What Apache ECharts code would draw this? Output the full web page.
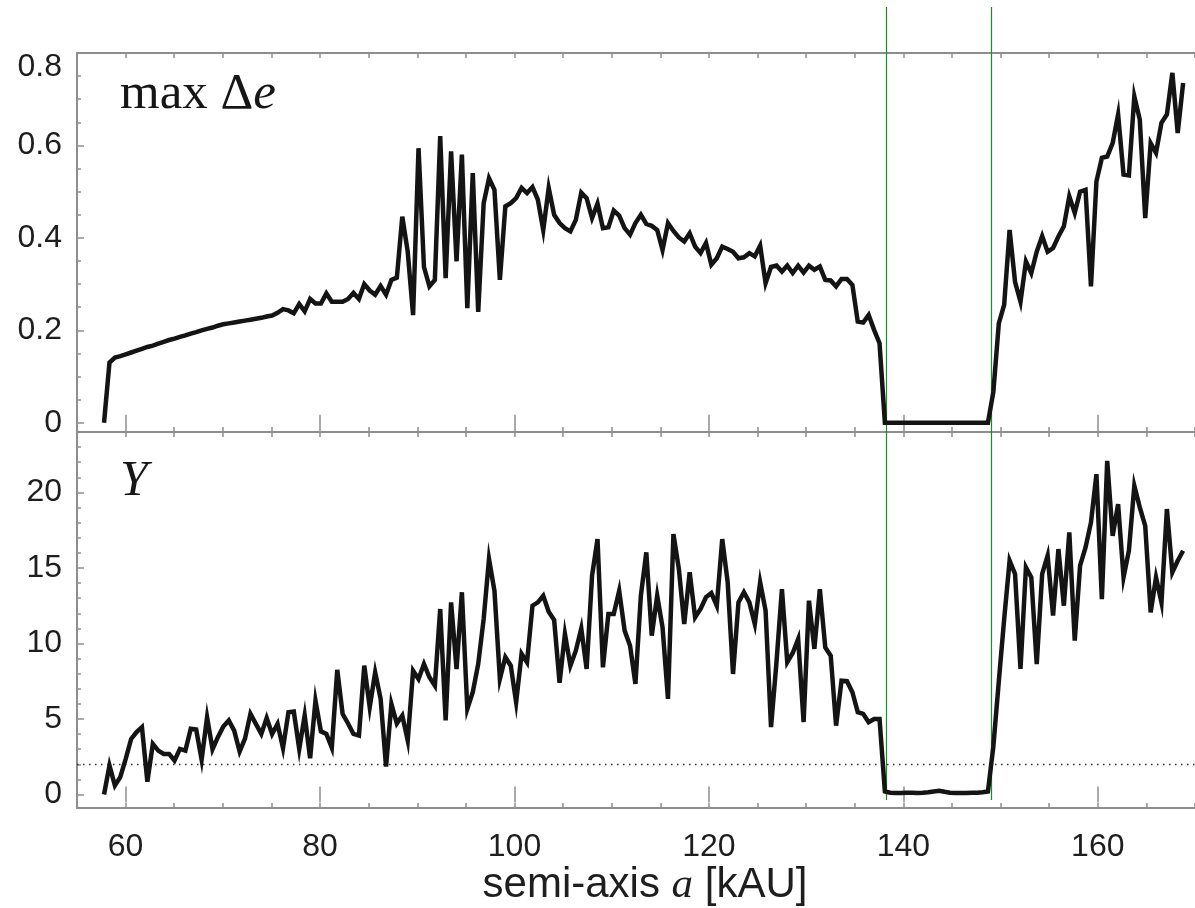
<!DOCTYPE html>
<html><head><meta charset="utf-8">
<script src="https://cdn.jsdelivr.net/npm/echarts@6/dist/echarts.min.js"></script>
<style>html,body{margin:0;padding:0;background:#fff}#c{width:1195px;height:908px}</style>
</head><body><div id="c"></div>
<script>
// semi-axis a [kAU] sample positions
const semiAxis = [
57.78,58.34,58.90,59.45,60.01,60.57,61.13,61.68,62.24,62.80,
63.36,63.92,64.47,65.03,65.59,66.15,66.70,67.26,67.82,68.38,
68.94,69.49,70.05,70.61,71.17,71.73,72.28,72.84,73.40,73.96,
74.51,75.07,75.63,76.19,76.75,77.30,77.86,78.42,78.98,79.53,
80.09,80.65,81.21,81.77,82.32,82.88,83.44,84.00,84.55,85.11,
85.67,86.23,86.79,87.34,87.90,88.46,89.02,89.57,90.13,90.69,
91.25,91.81,92.36,92.92,93.48,94.04,94.59,95.15,95.71,96.27,
96.83,97.38,97.94,98.50,99.06,99.62,100.17,100.73,101.29,101.85,
102.40,102.96,103.52,104.08,104.64,105.19,105.75,106.31,106.87,107.42,
107.98,108.54,109.10,109.66,110.21,110.77,111.33,111.89,112.44,113.00,
113.56,114.12,114.68,115.23,115.79,116.35,116.91,117.46,118.02,118.58,
119.14,119.70,120.25,120.81,121.37,121.93,122.48,123.04,123.60,124.16,
124.72,125.27,125.83,126.39,126.95,127.51,128.06,128.62,129.18,129.74,
130.29,130.85,131.41,131.97,132.53,133.08,133.64,134.20,134.76,135.31,
135.87,136.43,136.99,137.55,138.10,138.66,139.22,139.78,140.33,140.89,
141.45,142.01,142.57,143.12,143.68,144.24,144.80,145.35,145.91,146.47,
147.03,147.59,148.14,148.70,149.26,149.82,150.37,150.93,151.49,152.05,
152.61,153.16,153.72,154.28,154.84,155.40,155.95,156.51,157.07,157.63,
158.18,158.74,159.30,159.86,160.42,160.97,161.53,162.09,162.65,163.20,
163.76,164.32,164.88,165.44,165.99,166.55,167.11,167.67,168.22,168.78
];
// top panel: max Δe
const maxDeltaE = [
0,0.13,0.141,0.144,0.148,0.152,0.156,0.160,0.164,0.167,
0.171,0.175,0.179,0.182,0.186,0.189,0.193,0.196,0.200,0.203,
0.206,0.210,0.213,0.215,0.217,0.219,0.221,0.223,0.225,0.227,
0.230,0.232,0.238,0.246,0.243,0.237,0.257,0.241,0.268,0.258,
0.258,0.280,0.262,0.262,0.262,0.268,0.281,0.268,0.300,0.286,
0.277,0.296,0.277,0.309,0.314,0.446,0.370,0.233,0.594,0.337,
0.295,0.309,0.620,0.313,0.587,0.349,0.580,0.248,0.540,0.240,
0.475,0.529,0.504,0.309,0.468,0.475,0.486,0.508,0.497,0.510,
0.483,0.417,0.508,0.450,0.432,0.421,0.414,0.439,0.498,0.486,
0.443,0.474,0.421,0.423,0.459,0.448,0.421,0.407,0.432,0.450,
0.430,0.426,0.417,0.374,0.432,0.415,0.401,0.392,0.410,0.381,
0.367,0.389,0.342,0.356,0.381,0.376,0.370,0.356,0.358,0.367,
0.360,0.383,0.302,0.337,0.340,0.327,0.340,0.324,0.340,0.325,
0.340,0.331,0.338,0.309,0.308,0.295,0.311,0.311,0.298,0.219,
0.217,0.233,0.201,0.172,0,0,0,0,0,0,
0,0,0,0,0,0,0,0,0,0,
0,0,0,0,0.067,0.215,0.255,0.417,0.305,0.262,
0.349,0.324,0.370,0.404,0.370,0.378,0.403,0.425,0.490,0.454,
0.500,0.504,0.295,0.522,0.573,0.576,0.605,0.667,0.537,0.535,
0.706,0.656,0.443,0.605,0.584,0.649,0.667,0.757,0.627,0.735
];
// bottom panel: Y
const yParam = [
0,1.92,0.6,1.15,2.36,3.68,4.13,4.46,0.85,3.35,
2.91,2.69,2.69,2.25,3.02,2.91,4.35,4.3,2.3,5.12,
3.0,3.8,4.5,4.9,4.23,2.85,3.7,5.34,4.68,4.01,
5.06,4.0,4.68,3.07,5.45,5.49,3.02,5.23,2.4,6.22,
4.18,4.01,3.1,8.25,5.34,4.7,4.01,3.9,8.53,5.78,
8.09,6.33,1.85,6.0,4.7,5.23,3.57,8.2,7.65,8.64,
7.76,7.21,12.28,4.9,12.72,8.31,13.39,5.67,6.77,8.64,
11.62,15.59,13.49,7.65,9.09,8.53,6.11,9.31,8.75,12.5,
12.72,13.16,12.1,11.55,7.4,10.63,8.53,9.52,11.0,8.31,
14.48,16.91,8.42,11.95,11.95,13.49,10.85,9.85,7.32,13.16,
16.03,10.52,13.16,11.07,6.33,17.24,14.93,11.29,14.71,11.73,
12.28,13.06,13.34,12.5,16.91,14.05,7.98,12.72,13.39,12.72,
11.29,14.05,12.17,4.46,8.76,13.6,8.76,9.37,10.3,4.79,
12.83,9.64,13.6,9.74,9.19,4.56,7.54,7.5,6.77,5.45,
5.34,4.79,5.0,5.0,0.2,0.12,0.1,0.1,0.12,0.12,
0.1,0.12,0.15,0.2,0.25,0.18,0.12,0.1,0.1,0.1,
0.12,0.12,0.15,0.2,3.2,7.5,11.6,15.48,14.6,8.31,
15.04,14.38,8.64,14.6,15.81,11.84,16.25,12.5,17.35,10.19,
15.15,16.36,18.01,21.21,12.94,22.09,17.13,19.23,14.38,16.14,
20.44,19.01,17.79,12.06,14.38,12.72,18.9,14.71,15.48,16.14
];
const gapBounds = [138.2, 149.0];
const yThreshold = 2;
const xRange = [55, 170];
const xMajorTicks = [60, 80, 100, 120, 140, 160];
const topRange = [-0.02, 0.8];
const topLabels = [0, 0.2, 0.4, 0.6, 0.8];
const topMinorTicks = [0,0.05,0.1,0.15,0.2,0.25,0.3,0.35,0.4,0.45,0.5,0.55,0.6,0.65,0.7,0.75,0.8];
const botRange = [-0.9, 24];
const botLabels = [0, 5, 10, 15, 20];
const botMinorTicks = [0,1,2,3,4,5,6,7,8,9,10,11,12,13,14,15,16,17,18,19,20,21,22,23,24];

const AX = '#8e8e8e';
const TXT = '#1e1e1e';
const FS = 32;
const grids = [
  {left: 77, right: 0, top: 53, height: 379},
  {left: 77, right: 0, top: 432, height: 377},
  {left: 77, right: 0, top: 7, height: 793}
];
function xAx(grid, pos, extra) {
  return Object.assign({
    type: 'value', gridIndex: grid, position: pos, min: xRange[0], max: xRange[1], interval: 5,
    axisLine: {show: true, onZero: false, lineStyle: {color: AX, width: 2}},
    axisTick: {show: true, inside: true, length: 5, lineStyle: {color: AX, width: 1.5}},
    axisLabel: {show: false}, splitLine: {show: false}
  }, extra || {});
}
function xMaj(grid, pos) {
  return {
    type: 'value', gridIndex: grid, position: pos, min: xRange[0], max: xRange[1],
    axisLine: {show: false},
    axisTick: {show: true, inside: true, length: 8, customValues: xMajorTicks, lineStyle: {color: AX, width: 1.5}},
    axisLabel: {show: false}, splitLine: {show: false}
  };
}
const xAxes = [
  xAx(0, 'top'),
  xAx(0, 'bottom'),
  xAx(1, 'top'),
  xAx(1, 'bottom', {
    axisLabel: {show: true, margin: 23, fontSize: FS, color: TXT, fontFamily: 'Liberation Sans',
      customValues: xMajorTicks, formatter: v => (v % 20 === 0 ? String(v) : '')},
    name: 'semi-axis {it|a} [kAU]', nameLocation: 'middle', nameGap: 51,
    nameTextStyle: {fontSize: 42, color: TXT, fontFamily: 'Liberation Sans', padding: [0, 0, 0, 18],
      rich: {it: {fontSize: 43, fontStyle: 'italic', fontFamily: 'Liberation Serif', color: TXT}}}
  }),
  xMaj(0, 'top'), xMaj(0, 'bottom'), xMaj(1, 'top'), xMaj(1, 'bottom'),
  {type: 'value', gridIndex: 2, min: xRange[0], max: xRange[1], show: false}
];
function yAx(grid, range, labels, minor, fmt) {
  return {
    type: 'value', gridIndex: grid, position: 'left', min: range[0], max: range[1],
    axisLine: {show: true, onZero: false, lineStyle: {color: AX, width: 2}},
    axisTick: {show: true, inside: true, length: 4, customValues: minor, lineStyle: {color: AX, width: 1.5}},
    axisLabel: {show: true, margin: 15, fontSize: FS, color: TXT, fontFamily: 'Liberation Sans',
      customValues: labels, formatter: fmt,
      rich: {dn: {padding: [29, 0, 0, 0], fontSize: FS, color: TXT, fontFamily: 'Liberation Sans'}}},
    splitLine: {show: false}
  };
}
function yMaj(grid, range, labels) {
  return {
    type: 'value', gridIndex: grid, position: 'left', min: range[0], max: range[1],
    axisLine: {show: false},
    axisTick: {show: true, inside: true, length: 7, customValues: labels, lineStyle: {color: AX, width: 1.5}},
    axisLabel: {show: false}, splitLine: {show: false}
  };
}
const yAxes = [
  yAx(0, topRange, topLabels, topMinorTicks, v => (Math.abs(v - 0.8) < 1e-9 ? '{dn|0.8}' : String(v))),
  yAx(1, botRange, botLabels, botMinorTicks, v => String(v)),
  yMaj(0, topRange, topLabels),
  yMaj(1, botRange, botLabels),
  {type: 'value', gridIndex: 2, min: 0, max: 1, show: false}
];
const lineStyle = {color: '#141414', width: 4.5, join: 'miter', miterLimit: 8};
const option = {
  animation: false,
  backgroundColor: '#ffffff',
  grid: grids,
  xAxis: xAxes,
  yAxis: yAxes,
  title: [
    {text: '{r|max Δ}{i|e}', left: 115, top: 64,
      textStyle: {fontWeight: 'normal', rich: {
        r: {fontFamily: 'Liberation Serif', fontWeight: 'normal', fontSize: 51, color: '#161616'},
        i: {fontFamily: 'Liberation Serif', fontStyle: 'italic', fontWeight: 'normal', fontSize: 51, color: '#161616'}}}},
    {text: 'Y', left: 115, top: 452,
      textStyle: {fontFamily: 'Liberation Serif', fontStyle: 'italic', fontWeight: 'normal', fontSize: 50, color: '#161616'}}
  ],
  series: [
    {type: 'line', xAxisIndex: 0, yAxisIndex: 0, showSymbol: false, symbol: 'none',
      data: semiAxis.map((x, i) => [x, maxDeltaE[i]]), lineStyle: lineStyle, z: 5},
    {type: 'line', xAxisIndex: 2, yAxisIndex: 1, showSymbol: false, symbol: 'none',
      data: semiAxis.map((x, i) => [x, yParam[i]]), lineStyle: lineStyle, z: 5,
      markLine: {silent: true, symbol: 'none', label: {show: false},
        lineStyle: {type: [1.5, 4.5], color: '#333', width: 1.3},
        data: [{yAxis: yThreshold}]}},
    {type: 'line', xAxisIndex: 8, yAxisIndex: 4, data: [], z: 6,
      markLine: {silent: true, symbol: 'none', label: {show: false},
        lineStyle: {type: 'solid', color: '#1f8a1f', width: 1.2},
        data: gapBounds.map(v => ({xAxis: v}))}}
  ]
};
const chart = echarts.init(document.getElementById('c'), null, {renderer: 'canvas'});
chart.setOption(option);
</script></body></html>
